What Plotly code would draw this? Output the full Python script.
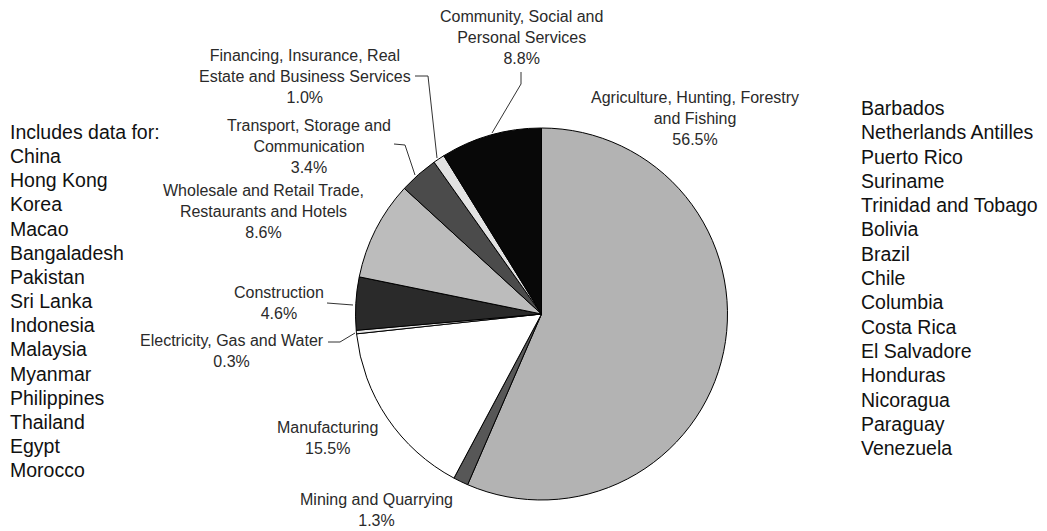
import plotly.graph_objects as go

W, H = 1047, 531

sectors = [
    "Agriculture, Hunting, Forestry and Fishing",
    "Mining and Quarrying",
    "Manufacturing",
    "Electricity, Gas and Water",
    "Construction",
    "Wholesale and Retail Trade, Restaurants and Hotels",
    "Transport, Storage and Communication",
    "Financing, Insurance, Real Estate and Business Services",
    "Community, Social and Personal Services",
]
shares = [56.5, 1.3, 15.5, 0.3, 4.6, 8.6, 3.4, 1.0, 8.8]
colors = ["#b3b3b3", "#575757", "#ffffff", "#e8e8e8", "#2a2a2a",
          "#bcbcbc", "#4b4b4b", "#e2e2e2", "#080808"]

# label text lines (wrapped as in the original)
label_lines = [
    ["Agriculture, Hunting, Forestry", "and Fishing"],
    ["Mining and Quarrying"],
    ["Manufacturing"],
    ["Electricity, Gas and Water"],
    ["Construction"],
    ["Wholesale and Retail Trade,", "Restaurants and Hotels"],
    ["Transport, Storage and", "Communication"],
    ["Financing, Insurance, Real", "Estate and Business Services"],
    ["Community, Social and", "Personal Services"],
]
# label centres (pixels)
label_pos = [(695, 118), (376, 510), (327, 438), (232, 351), (279, 303),
             (263, 212), (309, 146), (305, 77), (521, 38)]
# leader lines (pixels)
leaders = [
    None, None, None,
    [(328, 342), (340, 342), (355, 333)],
    [(327, 303), (353, 305)],
    None,
    [(394, 144), (405, 145), (415, 175)],
    [(415, 76), (428, 76), (437, 158)],
    [(521, 72), (521, 84), (492, 133)],
]

left_list = ["Includes data for:", "China", "Hong Kong", "Korea", "Macao",
             "Bangaladesh", "Pakistan", "Sri Lanka", "Indonesia", "Malaysia",
             "Myanmar", "Philippines", "Thailand", "Egypt", "Morocco"]
right_list = ["Barbados", "Netherlands Antilles", "Puerto Rico", "Suriname",
              "Trinidad and Tobago", "Bolivia", "Brazil", "Chile", "Columbia",
              "Costa Rica", "El Salvadore", "Honduras", "Nicoragua", "Paraguay",
              "Venezuela"]


def px(x, y):
    return x / W, 1 - y / H


cx, cy, r = 541.5, 314, 186
x0, y0 = px(cx - r, cy + r)
x1, y1 = px(cx + r, cy - r)

fig = go.Figure(go.Pie(
    labels=sectors, values=shares, sort=False, direction="clockwise",
    rotation=0, textinfo="none", hoverinfo="label+percent",
    marker=dict(colors=colors, line=dict(color="#000000", width=1)),
    domain=dict(x=[x0, x1], y=[y0, y1]), showlegend=False,
))

font_lbl = dict(family="Liberation Sans, Arial, sans-serif", size=16, color="#2a2a2a")
font_list = dict(family="Liberation Sans, Arial, sans-serif", size=19.5, color="#111111")

annotations = []
shapes = []
for lines, val, (lx, ly), lead in zip(label_lines, shares, label_pos, leaders):
    text = "<br>".join(lines + [f"{val:.1f}%"])
    ax, ay = px(lx, ly)
    annotations.append(dict(x=ax, y=ay, xref="paper", yref="paper", text=text,
                            showarrow=False, xanchor="center", yanchor="middle",
                            align="center", font=font_lbl))
    if lead:
        path = "M " + " L ".join(f"{px(a, b)[0]},{px(a, b)[1]}" for a, b in lead)
        shapes.append(dict(type="path", xref="paper", yref="paper", path=path,
                           line=dict(color="#333333", width=1)))

for i, t in enumerate(left_list):
    ax, ay = px(8, 132 + i * 24.15)
    annotations.append(dict(x=ax, y=ay, xref="paper", yref="paper", text=t,
                            showarrow=False, xanchor="left", yanchor="middle",
                            font=font_list))
for i, t in enumerate(right_list):
    ax, ay = px(859, 108 + i * 24.3)
    annotations.append(dict(x=ax, y=ay, xref="paper", yref="paper", text=t,
                            showarrow=False, xanchor="left", yanchor="middle",
                            font=font_list))

fig.update_layout(
    width=W, height=H, margin=dict(l=0, r=0, t=0, b=0),
    paper_bgcolor="white", plot_bgcolor="white",
    annotations=annotations, shapes=shapes,
)
fig.write_html(
    "out.html",
    config={"displayModeBar": False},
    post_script="document.body.style.margin='0';document.body.style.overflow='hidden';",
)
